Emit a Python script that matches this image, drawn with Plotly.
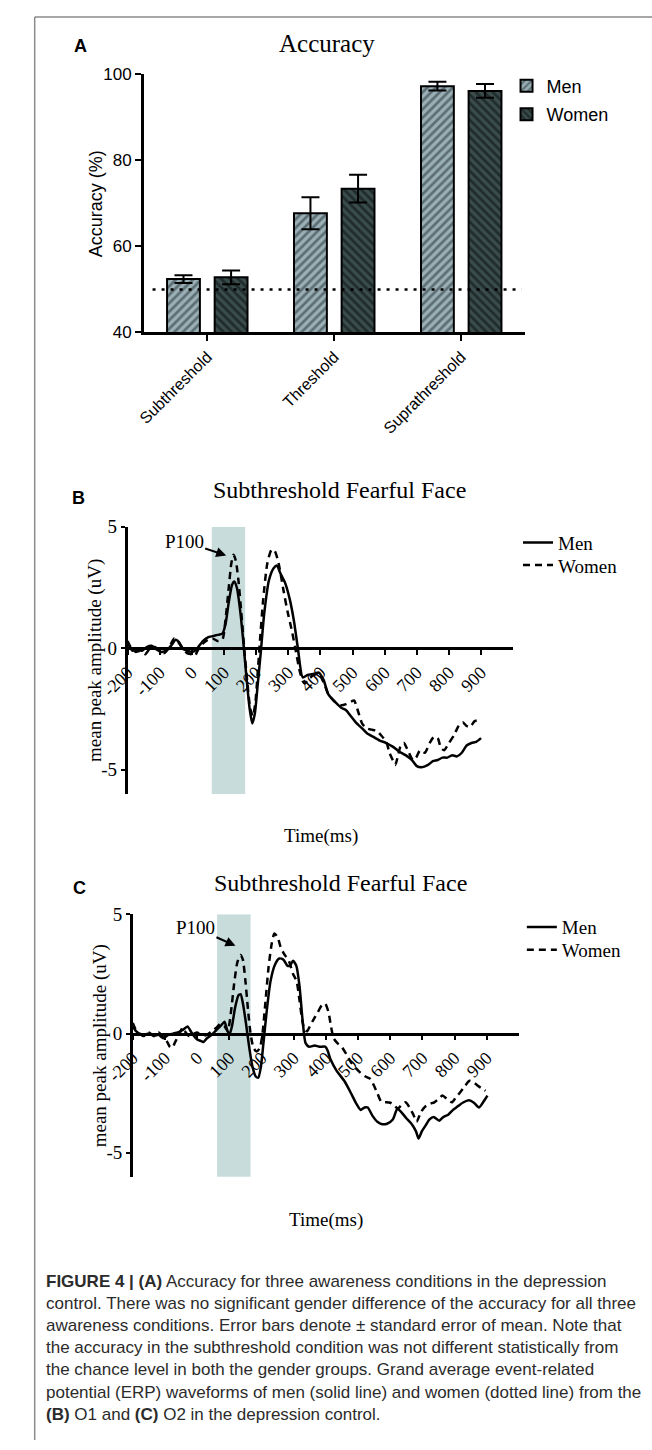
import plotly.graph_objects as go

# ---------------- data ----------------
conditions = ["Subthreshold", "Threshold", "Suprathreshold"]
acc_men = [52.4, 67.7, 97.2]
sem_men = [0.9, 3.7, 1.0]
acc_women = [52.8, 73.4, 96.1]
sem_women = [1.6, 3.2, 1.6]
chance_level = 50
acc_ticks = [40, 60, 80, 100]

erp_ticks = list(range(-200, 1000, 100))
erp_ticktext = ["-200", "-100", "0", "100", "200", "300", "400", "500", "600", "700", "800", "900"]
amp_ticks = [-5, 0, 5]
amp_ticktext = ["-5", "0", "5"]
p100_window = [62, 166]

# Panel B (O1)
b_men_t = [-200, -195, -185, -170, -155, -140, -125, -110, -95, -80, -65, -50, -40, -30, -15, 0, 10, 20, 35, 50,
           65, 80, 95, 105, 115, 125, 132, 140, 150, 160, 170, 180, 188, 196, 205, 215, 225, 240, 255, 265,
           275, 290, 305, 318, 330, 345, 360, 380, 395, 410, 425, 445, 465, 480, 495, 510, 530, 545, 565, 585,
           605, 625, 645, 665, 685, 700, 715, 735, 750, 765, 780, 795, 810, 825, 840, 855, 870, 885, 900]
b_men_v = [0.25, 0.1, -0.1, -0.05, -0.1, 0.05, 0.1, -0.05, -0.15, -0.1, 0.1, 0.35, 0.25, 0.0, -0.1, -0.15, -0.1, 0.05, 0.3, 0.45,
           0.5, 0.55, 0.6, 1.0, 1.9, 2.6, 2.75, 2.5, 1.6, 0.3, -1.2, -2.5, -3.1, -2.7, -1.5, -0.1, 1.4, 2.8, 3.3, 3.4,
           3.1, 2.7, 2.0, 1.1, 0.0, -1.2, -1.1, -1.05, -1.0, -1.3, -1.9, -2.2, -2.45, -2.55, -2.8, -3.05, -3.3, -3.5, -3.65, -3.8,
           -3.9, -4.05, -4.25, -4.4, -4.6, -4.85, -4.9, -4.8, -4.65, -4.6, -4.5, -4.5, -4.4, -4.45, -4.3, -4.0, -3.9, -3.85, -3.7]
b_women_t = [-200, -190, -175, -160, -145, -130, -115, -100, -85, -70, -55, -45, -30, -15, 0, 10, 20, 35, 50, 65,
             80, 95, 105, 115, 123, 130, 137, 145, 155, 163, 172, 182, 190, 198, 205, 212, 222, 235, 248, 258,
             270, 285, 298, 310, 322, 335, 345, 352, 365, 380, 395, 410, 425, 445, 465, 480, 495, 505, 515, 530,
             545, 560, 575, 590, 605, 615, 625, 633, 642, 650, 660, 672, 688, 698, 710, 725, 740, 753, 765, 775,
             785, 800, 815, 830, 843, 855, 865, 880, 895]
b_women_v = [0.3, 0.05, -0.15, -0.1, -0.25, 0.0, 0.05, -0.1, -0.2, 0.05, 0.4, 0.3, 0.05, -0.2, -0.25, -0.3, -0.05, 0.2, 0.35, 0.4,
             0.3, 0.35, 1.2, 2.5, 3.5, 3.85, 3.6, 2.8, 1.3, 0.0, -1.3, -2.5, -2.8, -2.2, -1.0, 0.3, 2.0, 3.5, 4.05, 4.0,
             3.5, 2.4, 1.5, 0.8, 0.0, -0.9, -1.35, -1.45, -1.25, -1.1, -1.05, -1.4, -1.9, -2.2, -2.35, -2.3, -2.2, -2.15, -2.5, -3.1,
             -3.3, -3.35, -3.4, -3.6, -3.85, -4.3, -4.6, -4.8, -4.4, -4.0, -3.9, -4.2, -4.6, -4.5, -4.2, -4.3, -3.9, -3.65, -3.7, -4.1,
             -4.2, -3.9, -3.6, -3.2, -3.05, -3.2, -3.25, -3.0, -2.95]

# Panel C (O2)
c_men_t = [-200, -190, -180, -165, -150, -135, -120, -105, -90, -75, -60, -45, -30, -20, -10, 0, 10, 20, 30, 45,
           60, 75, 85, 92, 100, 108, 118, 128, 135, 143, 152, 162, 172, 182, 190, 198, 206, 215, 228, 242,
           255, 268, 280, 288, 298, 308, 318, 328, 337, 348, 365, 380, 398, 405, 415, 433, 458, 478, 495, 508,
           520, 530, 545, 560, 575, 590, 608, 622, 635, 650, 667, 680, 688, 698, 710, 722, 735, 752, 765, 780,
           795, 810, 825, 845, 860, 876, 890, 902]
c_men_v = [0.3, 0.1, 0.0, -0.05, 0.0, -0.1, -0.05, -0.2, -0.05, 0.0, 0.05, 0.15, 0.3, 0.1, -0.1, -0.25, -0.3, -0.35, -0.2, -0.05,
           0.15, 0.35, 0.5, 0.2, -0.05, 0.3, 1.1, 1.6, 1.65, 1.2, 0.4, -0.6, -1.4, -1.8, -1.85, -1.4, -0.4, 0.8, 2.2, 2.9,
           3.15, 3.1, 2.85, 2.85, 3.05, 2.85, 2.0, 0.5, -0.4, -0.55, -0.5, -0.55, -0.55, -0.7, -1.1, -1.55, -2.0, -2.5, -2.95, -3.2,
           -3.1, -3.1, -3.45, -3.7, -3.8, -3.78, -3.6, -3.15, -3.3, -3.55, -3.8, -4.1, -4.4, -4.1, -3.85, -3.6, -3.5, -3.65, -3.5, -3.4,
           -3.2, -3.05, -2.9, -2.8, -2.9, -3.1, -2.85, -2.6]
c_women_t = [-200, -192, -180, -165, -150, -135, -120, -105, -95, -85, -78, -68, -55, -45, -38, -25, -10, 0, 15, 30,
             45, 60, 72, 85, 95, 105, 115, 125, 135, 142, 150, 158, 166, 175, 185, 195, 203, 212, 222, 232,
             240, 250, 260, 272, 285, 298, 309, 318, 326, 334, 342, 350, 362, 375, 388, 398, 408, 416, 424, 436,
             449, 463, 478, 493, 508, 523, 538, 550, 560, 573, 588, 600, 612, 623, 635, 648, 660, 672, 682, 695,
             707, 722, 737, 750, 762, 777, 792, 805, 817, 832, 846, 860, 872, 885, 896]
c_women_v = [0.45, 0.2, 0.0, -0.1, 0.05, -0.1, 0.05, -0.15, -0.3, -0.55, -0.6, -0.35, 0.0, 0.25, 0.1, -0.1, 0.0, 0.05, -0.1, -0.05,
             0.1, 0.25, 0.4, 0.3, 0.1, 0.9, 2.1, 3.0, 3.3, 3.1, 2.2, 1.0, 0.0, -0.6, -0.75, -0.6, 0.0, 1.3, 2.8, 3.8,
             4.2, 4.05, 3.6, 3.3, 3.05, 2.5, 2.2, 1.4, 0.6, 0.15, 0.1, 0.3, 0.6, 0.9, 1.2, 1.25, 0.9, 0.3, -0.2, -0.4,
             -0.55, -0.85, -1.2, -1.45, -1.65, -1.8, -1.9, -2.2, -2.5, -2.88, -2.88, -2.9, -3.0, -3.15, -3.0, -2.88, -3.1, -3.4, -3.7, -3.3,
             -3.08, -2.95, -2.88, -2.75, -2.6, -2.75, -2.88, -2.65, -2.47, -2.2, -1.98, -2.05, -2.19, -2.3, -2.4]

# ---------------- layout helpers ----------------
W, H = 652, 1450


def fx(p):
    return p / W


def fy(p):
    return 1 - p / H


SERIF = "Liberation Serif, Times New Roman, serif"
SANS = "Liberation Sans, Arial, sans-serif"

fig = go.Figure()

# Panel A bars
fig.add_trace(go.Bar(
    x=conditions, y=acc_men, name="Men", xaxis="x", yaxis="y", legend="legend",
    marker=dict(color="#9db3b9", line=dict(color="black", width=2),
                pattern=dict(shape="/", fgcolor="#1e2c30", bgcolor="#9ab0b6", size=6, solidity=0.45)),
    error_y=dict(type="data", array=sem_men, color="black", thickness=2, width=9),
))
fig.add_trace(go.Bar(
    x=conditions, y=acc_women, name="Women", xaxis="x", yaxis="y", legend="legend2",
    marker=dict(color="#334444", line=dict(color="black", width=2),
                pattern=dict(shape="\\", fgcolor="#050a0a", bgcolor="#3a4c4c", size=6, solidity=0.45)),
    error_y=dict(type="data", array=sem_women, color="black", thickness=2, width=9),
))

LINE_W = 2.5
DASH = "7px,5px"
fig.add_trace(go.Scatter(x=b_men_t, y=b_men_v, name="Men", xaxis="x2", yaxis="y2", legend="legend3",
                         mode="lines", line=dict(color="black", width=LINE_W, shape="spline", smoothing=0.6)))
fig.add_trace(go.Scatter(x=b_women_t, y=b_women_v, name="Women", xaxis="x2", yaxis="y2", legend="legend4",
                         mode="lines", line=dict(color="black", width=LINE_W, dash=DASH, shape="spline", smoothing=0.6)))
fig.add_trace(go.Scatter(x=c_men_t, y=c_men_v, name="Men", xaxis="x3", yaxis="y3", legend="legend5",
                         mode="lines", line=dict(color="black", width=LINE_W, shape="spline", smoothing=0.6)))
fig.add_trace(go.Scatter(x=c_women_t, y=c_women_v, name="Women", xaxis="x3", yaxis="y3", legend="legend6",
                         mode="lines", line=dict(color="black", width=LINE_W, dash=DASH, shape="spline", smoothing=0.6)))

# domains
A_x = [fx(121), fx(519)]
A_y = [fy(327), fy(65)]
B_x = [fx(104), fx(507)]
B_y = [fy(795), fy(524)]
C_x = [fx(109.5), fx(513)]
C_y = [fy(1183), fy(917)]
amp_range = [-6, 5]


def zero_pos(dom):
    return dom[0] + (dom[1] - dom[0]) * (0 - amp_range[0]) / (amp_range[1] - amp_range[0])


axis_common = dict(showgrid=False, zeroline=False, showline=True, linecolor="black", linewidth=2.5,
                   ticks="outside", tickcolor="black", tickwidth=2)

fig.update_layout(
    width=W, height=H, margin=dict(l=0, r=0, t=0, b=0), autosize=False, showlegend=True,
    paper_bgcolor="white", plot_bgcolor="white",
    barmode="group", bargap=0.25, bargroupgap=0.31,
    xaxis=dict(domain=A_x, anchor="y", type="category", range=[-0.5, 2.5], ticklen=6, tickangle=-45,
               tickfont=dict(family=SANS, size=16, color="black"), **axis_common),
    yaxis=dict(domain=A_y, anchor="x", range=[40, 100], tickvals=acc_ticks, ticklen=6,
               tickfont=dict(family=SANS, size=17, color="black"), **axis_common),
    xaxis2=dict(domain=B_x, anchor="free", position=zero_pos(B_y), range=[-200, 1000], tickvals=erp_ticks,
                ticktext=erp_ticktext, ticklen=5, tickangle=-45,
                tickfont=dict(family=SERIF, size=18, color="black"), **axis_common),
    yaxis2=dict(domain=B_y, anchor="x2", range=amp_range, tickvals=amp_ticks, ticktext=amp_ticktext, ticklen=4,
                tickfont=dict(family=SERIF, size=19, color="black"), **axis_common),
    xaxis3=dict(domain=C_x, anchor="free", position=zero_pos(C_y), range=[-200, 1000], tickvals=erp_ticks,
                ticktext=erp_ticktext, ticklen=5, tickangle=-45,
                tickfont=dict(family=SERIF, size=18, color="black"), **axis_common),
    yaxis3=dict(domain=C_y, anchor="x3", range=amp_range, tickvals=amp_ticks, ticktext=amp_ticktext, ticklen=4,
                tickfont=dict(family=SERIF, size=19, color="black"), **axis_common),
)

leg_common = dict(xanchor="left", yanchor="middle", bgcolor="rgba(0,0,0,0)", itemwidth=30, borderwidth=0)
fig.update_layout(
    legend=dict(x=fx(500), y=fy(77), font=dict(family=SANS, size=18, color="black"), **leg_common),
    legend2=dict(x=fx(500), y=fy(106), font=dict(family=SANS, size=18, color="black"), **leg_common),
    legend3=dict(x=fx(512), y=fy(540), font=dict(family=SERIF, size=19, color="black"), **leg_common),
    legend4=dict(x=fx(512), y=fy(563), font=dict(family=SERIF, size=19, color="black"), **leg_common),
    legend5=dict(x=fx(516), y=fy(930), font=dict(family=SERIF, size=19, color="black"), **leg_common),
    legend6=dict(x=fx(516), y=fy(953), font=dict(family=SERIF, size=19, color="black"), **leg_common),
)

shapes = [
    # chance level
    dict(type="line", xref="x domain", yref="y", x0=0.023, x1=0.992, y0=chance_level, y1=chance_level,
         line=dict(color="black", width=2.5, dash="3px,6px")),
    # P100 windows
    dict(type="rect", xref="x2", yref="y2", x0=p100_window[0], x1=p100_window[1], y0=-6.1, y1=5,
         fillcolor="#c8dcdc", line=dict(width=0), layer="below"),
    dict(type="rect", xref="x3", yref="y3", x0=p100_window[0], x1=p100_window[1], y0=-6.1, y1=5,
         fillcolor="#c8dcdc", line=dict(width=0), layer="below"),
    # frame
    dict(type="line", xref="paper", yref="paper", x0=fx(7), x1=1, y0=fy(7), y1=fy(7),
         line=dict(color="#8a8a8a", width=1.5)),
    dict(type="line", xref="paper", yref="paper", x0=fx(7), x1=fx(7), y0=fy(7), y1=0,
         line=dict(color="#8a8a8a", width=1.5)),
]
fig.update_layout(shapes=shapes)


def txt(x, y, text, size, family, angle=0, color="black", xanchor="center", yanchor="middle", align="center"):
    return dict(xref="paper", yref="paper", x=fx(x), y=fy(y), text=text, showarrow=False, textangle=angle,
                font=dict(family=family, size=size, color=color), xanchor=xanchor, yanchor=yanchor, align=align)


caption = ("<b>FIGURE 4 | (A)</b> Accuracy for three awareness conditions in the depression<br>"
           "control. There was no significant gender difference of the accuracy for all three<br>"
           "awareness conditions. Error bars denote \u00b1 standard error of mean. Note that<br>"
           "the accuracy in the subthreshold condition was not different statistically from<br>"
           "the chance level in both the gender groups. Grand average event-related<br>"
           "potential (ERP) waveforms of men (solid line) and women (dotted line) from the<br>"
           "<b>(B)</b> O1 and <b>(C)</b> O2 in the depression control.")

annotations = [
    txt(55, 36, "<b>A</b>", 18, SANS),
    txt(312, 34, "Accuracy", 25, SERIF),
    txt(71, 196, "Accuracy (%)", 18, SANS, angle=-90),
    txt(53, 495, "<b>B</b>", 18, SANS),
    txt(325, 487, "Subthreshold Fearful Face", 24, SERIF),
    txt(70, 659, "mean peak amplitude (uV)", 19, SERIF, angle=-90),
    txt(306, 838, "Time(ms)", 19, SERIF),
    txt(54, 890, "<b>C</b>", 18, SANS),
    txt(327, 885, "Subthreshold Fearful Face", 24, SERIF),
    txt(75, 1050, "mean peak amplitude (uV)", 19, SERIF, angle=-90),
    txt(311, 1227, "Time(ms)", 19, SERIF),
    txt(17, 1278, caption, 17, SANS, color="#2b2b2b", xanchor="left", yanchor="top", align="left"),
    dict(xref="x2", yref="y2", x=107, y=3.82, text="P100", showarrow=True, ax=-42, ay=-14,
         arrowhead=2, arrowsize=1, arrowwidth=2, arrowcolor="black", standoff=0,
         font=dict(family=SERIF, size=19, color="black")),
    dict(xref="x3", yref="y3", x=119, y=3.68, text="P100", showarrow=True, ax=-40, ay=-18,
         arrowhead=2, arrowsize=1, arrowwidth=2, arrowcolor="black", standoff=0,
         font=dict(family=SERIF, size=19, color="black")),
]
fig.update_layout(annotations=annotations)

fig.write_html("out.html", config={"displayModeBar": False})
